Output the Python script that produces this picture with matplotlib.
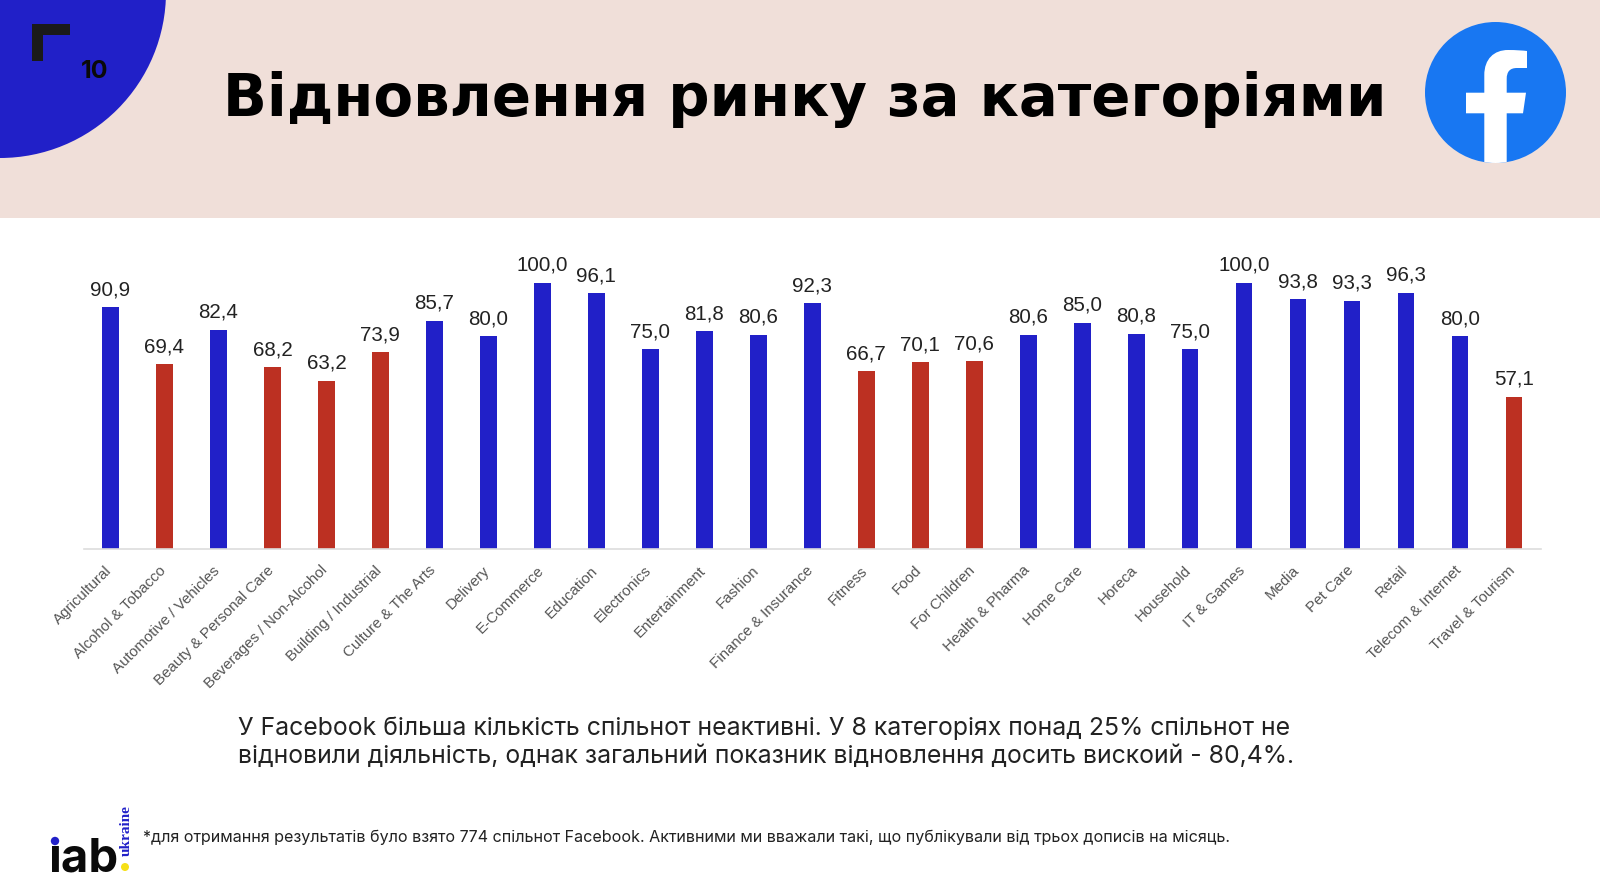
import matplotlib
matplotlib.use("Agg")
import matplotlib.pyplot as plt
from matplotlib.patches import Circle, Rectangle, Polygon, PathPatch
from matplotlib.path import Path
from matplotlib.transforms import ScaledTranslation

categories = ["Agricultural", "Alcohol & Tobacco", "Automotive / Vehicles", "Beauty & Personal Care",
              "Beverages / Non-Alcohol", "Building / Industrial", "Culture & The Arts", "Delivery",
              "E-Commerce", "Education", "Electronics", "Entertainment", "Fashion", "Finance & Insurance",
              "Fitness", "Food", "For Children", "Health & Pharma", "Home Care", "Horeca", "Household",
              "IT & Games", "Media", "Pet Care", "Retail", "Telecom & Internet", "Travel & Tourism"]
values = [90.9, 69.4, 82.4, 68.2, 63.2, 73.9, 85.7, 80.0, 100.0, 96.1, 75.0, 81.8, 80.6, 92.3,
          66.7, 70.1, 70.6, 80.6, 85.0, 80.8, 75.0, 100.0, 93.8, 93.3, 96.3, 80.0, 57.1]
labels = [f"{v:.1f}".replace(".", ",") for v in values]
title = "Відновлення ринку за категоріями"
body1 = "У Facebook більша кількість спільнот неактивні. У 8 категоріях понад 25% спільнот не"
body2 = "відновили діяльність, однак загальний показник відновлення досить вискоий - 80,4%."
note = "*для отримання результатів було взято 774 спільнот Facebook. Активними ми вважали такі, що публікували від трьох дописів на місяць."

BLUE, RED = "#2120c8", "#bc3022"
W, H = 1600, 879
fig = plt.figure(figsize=(W/100, H/100), dpi=100, facecolor="white")
bg = fig.add_axes([0, 0, 1, 1], zorder=0)
bg.set_xlim(0, W); bg.set_ylim(H, 0); bg.axis("off")
bg.add_patch(Rectangle((0, 0), W, 218.5, fc="#f0dfd9", ec="none"))
bg.add_patch(Circle((0, -7), 166, fc=BLUE, ec="none"))
bg.add_patch(Polygon([(32, 24.5), (70, 24.5), (70, 35.5), (43, 35.5), (43, 62), (32, 62)], fc="#1a1a1a", ec="none"))
bg.text(94.5, 71, "10", fontsize=18, fontweight="bold", family="Inter", ha="center", va="center", color="#0a0a0a")
bg.text(804.5, 99, title, fontsize=41.6, fontweight="bold", family="DejaVu Sans", ha="center", va="center", color="black")
# Facebook logo
cx, cy, r = 1495.5, 93.5, 70.5
bg.add_patch(Circle((cx, cy), r, fc="#1877f2", ec="none"))
clip = Circle((cx, cy), r, transform=bg.transData)
M, L, C, Z = Path.MOVETO, Path.LINETO, Path.CURVE4, Path.CLOSEPOLY
fverts = [(1484.3, 170), (1484.3, 114.3), (1466, 114.3), (1466, 93.7), (1484.3, 93.7), (1484.3, 76),
          (1484.3, 60), (1494, 51), (1508, 51), (1516, 51), (1523, 51.5), (1527, 52), (1527, 69), (1517, 69),
          (1510, 69), (1506.7, 72.5), (1506.7, 80), (1506.7, 93.7), (1526, 93.7), (1523, 114.3), (1506.7, 114.3), (1506.7, 170), (1484.3, 170)]
fcodes = [M, L, L, L, L, L, C, C, C, C, C, C, L, L, C, C, C, L, L, L, L, L, Z]
fpatch = PathPatch(Path(fverts, fcodes), fc="white", ec="none")
bg.add_patch(fpatch); fpatch.set_clip_path(clip)
bg.text(238, 728.5, body1, fontsize=17.85, family="Inter", va="center", color="#222222")
bg.text(238, 756.5, body2, fontsize=17.85, family="Inter", va="center", color="#222222")
bg.text(143, 837, note, fontsize=11.58, family="Inter", va="center", color="#222222")
# iab logo
bg.text(48.5, 872, "iab", fontsize=34, fontweight="bold", family="Inter", va="baseline", color="#0a0a0a")
bg.add_patch(Rectangle((46, 826), 16, 21, fc="white", ec="none", zorder=4))
bg.add_patch(Circle((55, 842), 4.2, fc=BLUE, ec="none", zorder=5))
bg.text(126.5, 831, "ukraine", fontsize=11, fontweight="bold", family="Liberation Serif", rotation=90, ha="center", va="center", color=BLUE)
bg.add_patch(Circle((125, 868), 4, fc="#f6e017", ec="none"))

ax = fig.add_axes([83.5/W, (H-549.5)/H, (1541-83.5)/W, 265.5/H], zorder=1)
ax.patch.set_alpha(0)
x = list(range(len(categories)))
colors = [BLUE if v >= 75 else RED for v in values]
ax.bar(x, values, width=0.31, color=colors)
ax.set_xlim(-0.5, 26.5)
ax.set_ylim(0, 100)
for s in ("top", "left", "right"):
    ax.spines[s].set_visible(False)
ax.spines["bottom"].set_color("#dddddd")
ax.spines["bottom"].set_linewidth(1.2)
ax.set_yticks([])
ax.set_xticks(x)
ax.set_xticklabels(categories, rotation=45, ha="right", rotation_mode="anchor", fontsize=10.9,
                   family="Liberation Sans", color="#555555")
ax.tick_params(axis="x", length=0, pad=10)
shift = ScaledTranslation(-6/100, 0, fig.dpi_scale_trans)
for lab in ax.get_xticklabels():
    lab.set_transform(lab.get_transform() + shift)
for xi, v, t in zip(x, values, labels):
    ax.annotate(t, (xi, v), xytext=(0, 6.5), textcoords="offset points", ha="center", va="bottom",
                fontsize=14.8, family="Liberation Sans", color="#222222", annotation_clip=False)
fig.savefig("out.png", dpi=100)
